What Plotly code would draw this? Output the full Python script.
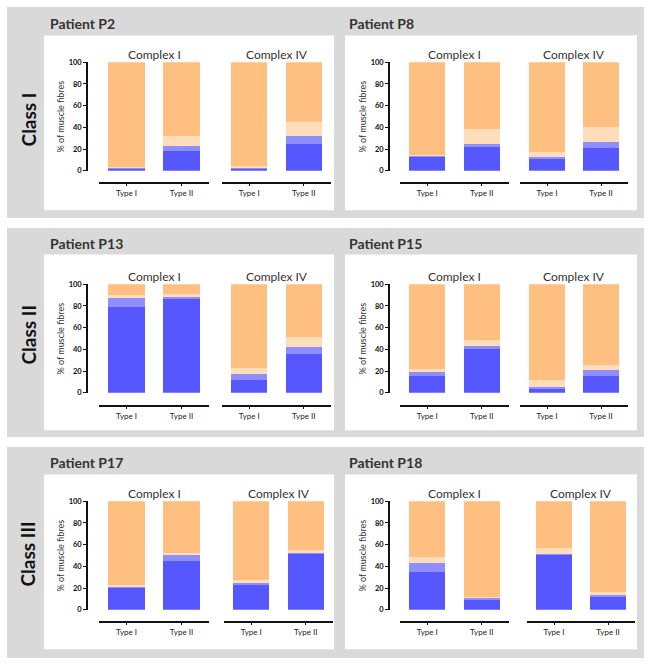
import plotly.graph_objects as go

# ---------------- data ----------------
classes = ["Class I", "Class II", "Class III"]
patients = ["Patient P2", "Patient P8", "Patient P13", "Patient P15", "Patient P17", "Patient P18"]
complexes = ["Complex I", "Complex IV"]
fibre_types = ["Type I", "Type II"]
segment_names = ["Positive", "Intermediate (+)", "Intermediate (-)", "Negative"]

# per patient: [Complex I Type I, Complex I Type II, Complex IV Type I, Complex IV Type II]
positive = [
    [2, 18, 2, 25],
    [13, 22, 11, 21],
    [79, 86, 12, 36],
    [15, 40, 4, 15],
    [20, 45, 23, 51.5],
    [35, 9, 51, 12],
]
intermediate_pos = [
    [1, 5, 0.5, 7],
    [0.5, 3, 1.5, 5.5],
    [8, 2, 5, 6],
    [4.5, 3, 1, 6],
    [1.5, 5, 2, 1],
    [8, 2, 0.5, 1.5],
]
intermediate_neg = [
    [0.5, 9, 1.5, 13],
    [1, 13.5, 5, 13.5],
    [3, 3, 6, 9],
    [2.5, 5.5, 7, 4.5],
    [1.5, 2, 2, 3],
    [5.5, 1, 5.5, 3],
]
negative = [
    [96.5, 68, 96, 55],
    [85.5, 61.5, 82.5, 60],
    [10, 9, 77, 49],
    [78, 51.5, 88, 74.5],
    [77, 48, 73, 44.5],
    [51.5, 88, 43, 83.5],
]
y_ticks = [0, 20, 40, 60, 80, 100]
y_title = "% of muscle fibres"

# ---------------- style / geometry ----------------
seg_colors = ["#5757FF", "#8E8EFF", "#FFDDBB", "#FFBF80"]
W, H = 658, 670
FONT = "Lato"


def fx(x):
    return x / W


def fy(y):
    return 1 - y / H


rows = [
    dict(grey=(3, 217), white=(32, 209), title=20, y0=169, y100=59, xline=181, ctitle=51, classy=117),
    dict(grey=(227, 439), white=(254, 432), title=243, y0=394, y100=284, xline=407, ctitle=276, classy=335),
    dict(grey=(449, 663), white=(477, 654), title=465, y0=614, y100=504, xline=626, ctitle=496, classy=558),
]
cols = [
    dict(white=(44, 334), title=48, yaxis=87, ytitle=60, ci=(99, 209), civ=(222, 331)),
    dict(white=(345, 637), title=347, yaxis=389, ytitle=362, ci=(400, 509), civ=(520, 628)),
]
civ_override = {4: (224, 333), 5: (527, 635)}

fig = go.Figure()
shapes = []
annotations = []
layout_axes = {}

for r, row in enumerate(rows):
    shapes.append(dict(type="rect", xref="paper", yref="paper", layer="below",
                       x0=fx(7), x1=fx(644), y0=fy(row["grey"][1]), y1=fy(row["grey"][0]),
                       fillcolor="#D9D9D9", line=dict(width=0)))
    annotations.append(dict(text=classes[r], xref="paper", yref="paper", x=fx(28), y=fy(row["classy"]),
                            showarrow=False, textangle=-90, xanchor="center", yanchor="middle",
                            font=dict(family=FONT, size=19, color="#111", weight="bold")))
    for c, col in enumerate(cols):
        p = r * 2 + c
        shapes.append(dict(type="rect", xref="paper", yref="paper", layer="below",
                           x0=fx(col["white"][0]), x1=fx(col["white"][1]),
                           y0=fy(row["white"][1]), y1=fy(row["white"][0]),
                           fillcolor="white", line=dict(width=0)))
        annotations.append(dict(text=patients[p], xref="paper", yref="paper", x=fx(col["title"]),
                                y=fy(row["title"]), showarrow=False, xanchor="left", yanchor="middle",
                                font=dict(family=FONT, size=14, color="#333", weight="bold")))
        annotations.append(dict(text=y_title, xref="paper", yref="paper", x=fx(col["ytitle"]),
                                y=fy((row["y0"] + row["y100"]) / 2), showarrow=False, textangle=-90,
                                xanchor="center", yanchor="middle",
                                font=dict(family=FONT, size=9, color="#333")))
        doms = [col["ci"], civ_override.get(p, col["civ"])]
        for k in range(2):
            idx = p * 2 + k + 1
            xa = "x" if idx == 1 else f"x{idx}"
            ya = "y" if idx == 1 else f"y{idx}"
            sl = slice(k * 2, k * 2 + 2)
            series = [positive[p][sl], intermediate_pos[p][sl], intermediate_neg[p][sl], negative[p][sl]]
            for s in range(4):
                fig.add_trace(go.Bar(x=fibre_types, y=series[s], name=segment_names[s],
                                     marker=dict(color=seg_colors[s], line=dict(width=0)),
                                     xaxis=xa, yaxis=ya, showlegend=False))
            dom = doms[k]
            layout_axes["xaxis" if idx == 1 else f"xaxis{idx}"] = dict(
                domain=[fx(dom[0]), fx(dom[1])], anchor="free", position=fy(row["xline"]),
                showline=True, linecolor="#111", linewidth=1.6, ticks="outside", ticklen=3,
                tickwidth=1.2, tickcolor="#111", showgrid=False, zeroline=False,
                tickfont=dict(family=FONT, size=8, color="#222"), fixedrange=True)
            layout_axes["yaxis" if idx == 1 else f"yaxis{idx}"] = dict(
                domain=[fy(row["y0"]), fy(row["y100"])], range=[0, 100],
                anchor="free", position=fx(col["yaxis"]),
                showline=(k == 0), visible=(k == 0), linecolor="#111", linewidth=1.6,
                ticks="outside", ticklen=3, tickwidth=1.2, tickcolor="#111",
                tickvals=y_ticks, showgrid=False, zeroline=False,
                tickfont=dict(family=FONT, size=7.5, color="#111", weight="bold"), fixedrange=True)
            xc = (dom[0] + dom[1]) / 2
            annotations.append(dict(text=complexes[k], xref="paper", yref="paper", x=fx(xc),
                                    y=fy(row["ctitle"]), showarrow=False, xanchor="center",
                                    yanchor="middle", font=dict(family=FONT, size=12, color="#333")))

fig.update_layout(
    width=W, height=H, margin=dict(l=0, r=0, t=0, b=0),
    paper_bgcolor="white", plot_bgcolor="rgba(0,0,0,0)",
    barmode="stack", bargap=0.345, showlegend=False, hovermode=False,
    shapes=shapes, annotations=annotations, **layout_axes,
)

fig.write_html("out.html", config={"displayModeBar": False},
               post_script="document.body.style.margin='0';document.body.style.overflow='hidden';")
